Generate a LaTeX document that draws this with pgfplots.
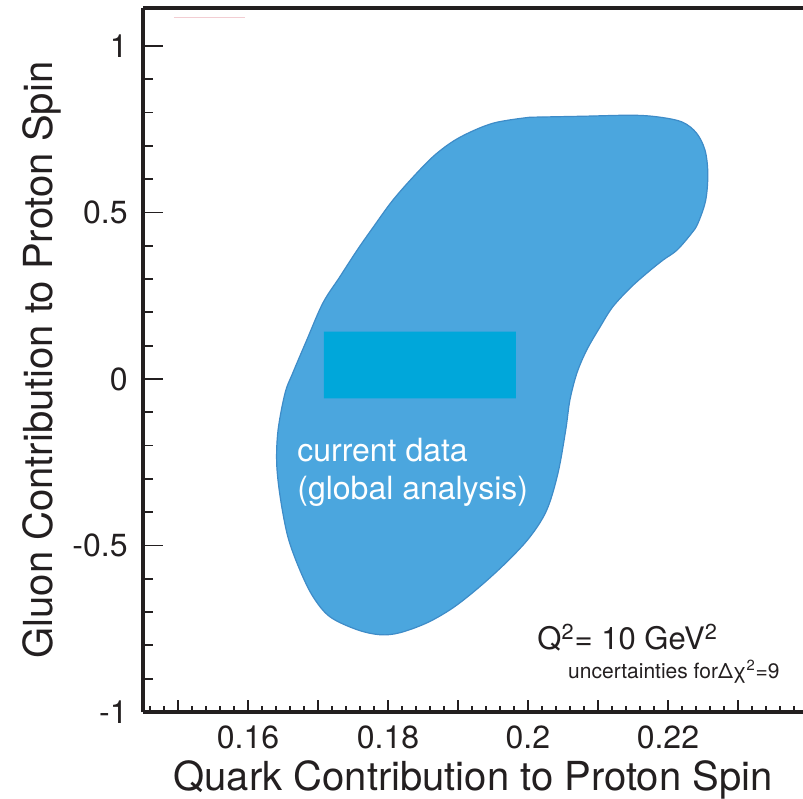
\documentclass[border=0pt]{standalone}
\usepackage{fontspec}
\setmainfont{TeX Gyre Heros}
\usepackage{pgfplots}
\usepackage{pgfplotstable}
\pgfplotsset{compat=1.18}
\definecolor{blobfill}{RGB}{75,166,222}
\definecolor{blobedge}{RGB}{62,140,200}
\definecolor{rectfill}{RGB}{0,167,218}
\definecolor{axcol}{RGB}{35,31,32}
\definecolor{faint}{RGB}{242,205,210}
\pgfplotstableread{
x y
0.2003 0.786
0.2079 0.789
0.2150 0.792
0.2189 0.786
0.2221 0.771
0.2241 0.738
0.2253 0.687
0.2257 0.618
0.2254 0.537
0.2243 0.468
0.2234 0.438
0.2213 0.387
0.2193 0.357
0.2170 0.318
0.2146 0.273
0.2121 0.216
0.2103 0.156
0.2084 0.087
0.2070 0.018
0.2060 -0.063
0.2054 -0.153
0.2043 -0.282
0.2027 -0.393
0.2003 -0.474
0.1970 -0.549
0.1931 -0.624
0.1893 -0.687
0.1856 -0.732
0.1817 -0.762
0.1789 -0.768
0.1756 -0.753
0.1717 -0.714
0.1693 -0.654
0.1674 -0.573
0.1657 -0.474
0.1646 -0.354
0.1641 -0.252
0.1643 -0.153
0.1653 -0.042
0.1664 0.018
0.1684 0.117
0.1707 0.228
0.1731 0.306
0.1756 0.387
0.1779 0.456
0.1807 0.537
0.1841 0.618
0.1870 0.678
0.1903 0.726
0.1950 0.768
0.2003 0.786
}\blobtable
\pgfplotstableread{
x y
0.17086 -0.058
0.19829 -0.058
0.19829 0.142
0.17086 0.142
0.17086 -0.058
}\recttable
\begin{document}
\begin{tikzpicture}
\pgfplotsset{common/.style={
  scale only axis, width=330pt, height=352pt, at={(0,0)}, anchor=south west,
  xmin=0.145, xmax=0.2393, ymin=-1, ymax=1.114,
  axis x line=box, axis y line=left,
  axis line style={-, line width=1.6pt, color=axcol},
  tick align=inside,
  /pgf/number format/assume math mode=true,
  tick label style={color=axcol, font=\fontsize{16}{19}\selectfont},
}}
\begin{axis}[common,
  xtick=\empty,
  ytick={-1,-0.5,0,0.5,1},
  yticklabels={-1,-0.5,0,0.5,1},
  minor y tick num=4,
  major tick length=10pt, minor tick length=5pt,
  every tick/.style={line width=0.9pt, color=axcol},
  yticklabel style={anchor=east, inner sep=0pt, xshift=-7.5pt},
  ylabel={Gluon Contribution to Proton Spin},
  ylabel style={font=\fontsize{20}{24}\selectfont, color=axcol,
    at={(axis description cs:-0.1833,0.5)}, anchor=north, inner sep=0pt, rotate=0},
]
\addplot[fill=blobfill, draw=blobedge, line width=0.6pt, smooth, tension=0.55] table {\blobtable};
\addplot[fill=rectfill, draw=none] table {\recttable};
\draw[faint, line width=0.6pt] (axis cs:0.1494,1.086) -- (axis cs:0.1596,1.086);
\node[anchor=base west, inner sep=0pt, text=white, font=\fontsize{16}{19}\selectfont] at (axis cs:0.1670,-0.249) {current data};
\node[anchor=base west, inner sep=0pt, text=white, font=\fontsize{16}{19}\selectfont] at (axis cs:0.1670,-0.363) {(global analysis)};
\node[anchor=base west, inner sep=0pt, text=axcol, font=\fontsize{15.5}{18}\selectfont] at (axis cs:0.2013,-0.813) {Q\textsuperscript{2}= 10 GeV\textsuperscript{2}};
\node[anchor=base west, inner sep=0pt, text=axcol, font=\fontsize{10.5}{12}\selectfont] at (axis cs:0.2057,-0.900) {uncertainties forΔχ\textsuperscript{2}=9};
\end{axis}
\begin{axis}[common,
  ytick=\empty,
  xtick={0.14,0.15,0.16,0.17,0.18,0.19,0.2,0.21,0.22,0.23,0.24},
  xticklabels={,,0.16,,0.18,,0.2,,0.22,,},
  xtick pos=bottom,
  minor x tick num=4,
  major tick length=6pt, minor tick length=3pt,
  every tick/.style={line width=0.9pt, color=axcol},
  xticklabel style={anchor=north, inner sep=0pt, yshift=-6.5pt},
  xlabel={Quark Contribution to Proton Spin},
  xlabel style={font=\fontsize{20}{24}\selectfont, color=axcol,
    at={(axis description cs:0.5,-0.0682)}, anchor=north, inner sep=0pt},
]
\end{axis}
\pgfresetboundingbox
\path[use as bounding box] (-71.5pt,-43pt) rectangle (330pt,356pt);
\end{tikzpicture}
\end{document}
